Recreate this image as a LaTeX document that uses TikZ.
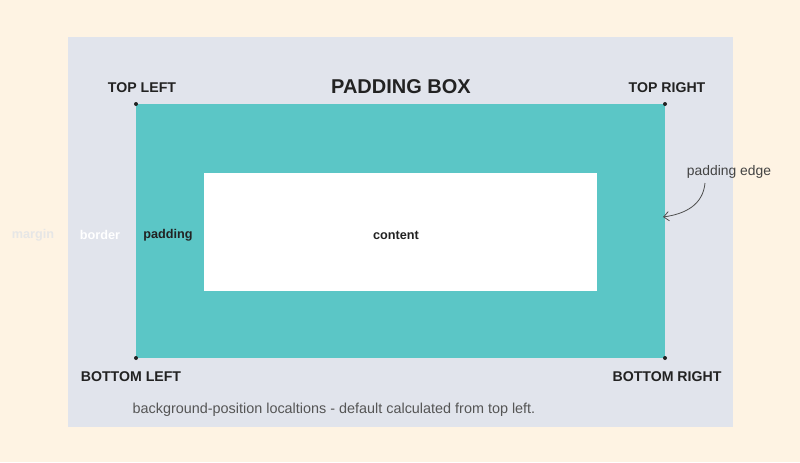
\documentclass[tikz,border=0pt]{standalone}
\usepackage{fontspec}
\setmainfont{Liberation Sans}
\usetikzlibrary{arrows.meta}
\definecolor{cream}{HTML}{FEF3E3}
\definecolor{grayb}{HTML}{E1E4EC}
\definecolor{tealp}{HTML}{5BC6C6}
\definecolor{darktxt}{HTML}{222222}
\definecolor{captxt}{HTML}{555555}
\definecolor{margintxt}{HTML}{E6E6E6}
\tikzset{
  corner/.style={font=\bfseries\fontsize{10.6}{12}\selectfont, text=darktxt, inner sep=0pt},
  layerlbl/.style={font=\bfseries\fontsize{9.5}{11}\selectfont, inner sep=0pt},
  dotpt/.style={circle, fill=darktxt, inner sep=0pt, minimum size=3pt},
}
\begin{document}
\begin{tikzpicture}[x=0.75pt,y=-0.75pt]
\useasboundingbox (0,0) rectangle (800,462);
\fill[cream] (0,0) rectangle (800,462);
\fill[grayb] (68,37) rectangle (733,427);
\fill[tealp] (136,104) rectangle (665,358);
\fill[white] (204,173) rectangle (597,291);
\node[dotpt] (tl) at (136,104) {};
\node[dotpt] (tr) at (665,104) {};
\node[dotpt] (bl) at (136,358) {};
\node[dotpt] (br) at (665,358) {};
\node[font=\bfseries\fontsize{15}{18}\selectfont, text=darktxt, inner sep=0pt] (title) at (401,87) {PADDING BOX};
\node[corner] (tlt) at (142,88) {TOP LEFT};
\node[corner] (trt) at (667,88) {TOP RIGHT};
\node[corner] (blt) at (131,377) {BOTTOM LEFT};
\node[corner] (brt) at (667,377) {BOTTOM RIGHT};
\node[layerlbl, text=margintxt] (margin) at (33,235) {margin};
\node[layerlbl, text=white] (border) at (100,235) {border};
\node[layerlbl, text=darktxt] (padding) at (168,235) {padding};
\node[layerlbl, text=darktxt] (content) at (396,235) {content};
\node[font=\fontsize{10.4}{12}\selectfont, text=darktxt!85, inner sep=0pt] (pedge) at (729,172) {padding edge};
\coordinate (edgept) at (663,217);
\draw[-{Straight Barb[length=4pt,width=7pt]}, darktxt!80, line width=0.6pt] (705,183) .. controls (703,205) and (685,214) .. (edgept);
\node[font=\fontsize{10.8}{13}\selectfont, text=captxt, inner sep=0pt] (caption) at (334,410) {background-position localtions - default calculated from top left.};
\end{tikzpicture}
\end{document}
